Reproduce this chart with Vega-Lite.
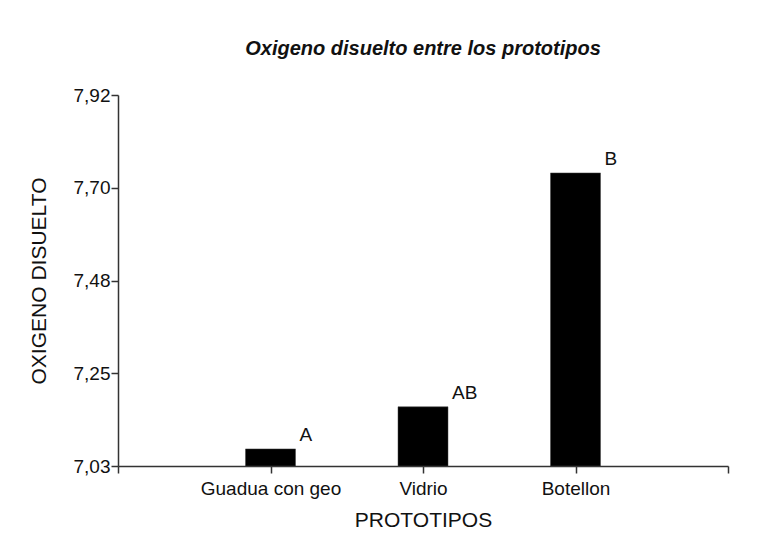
{
  "$schema": "https://vega.github.io/schema/vega-lite/v6.json",
  "width": 610,
  "height": 371,
  "autosize": {"type": "none"},
  "padding": {"left": 118, "top": 95, "right": 29, "bottom": 86},
  "background": "white",
  "config": {
    "view": {"stroke": null},
    "font": "Liberation Sans",
    "axis": {
      "labelFont": "Liberation Sans",
      "titleFont": "Liberation Sans",
      "labelColor": "#111",
      "titleColor": "#111",
      "labelFontSize": 19,
      "titleFontSize": 21,
      "titleFontWeight": "normal",
      "domainColor": "#333",
      "tickColor": "#333",
      "domainWidth": 1.5,
      "tickWidth": 1.5,
      "tickSize": 7,
      "grid": false
    }
  },
  "title": {
    "text": "Oxigeno disuelto entre los prototipos",
    "font": "Liberation Sans",
    "fontSize": 20,
    "fontStyle": "italic",
    "fontWeight": "bold",
    "color": "#111",
    "anchor": "middle",
    "frame": "group",
    "offset": 27
  },
  "data": {
    "values": [
      {"prototipo": "Guadua con geo", "oxigeno": 7.071, "grupo": "A"},
      {"prototipo": "Vidrio", "oxigeno": 7.172, "grupo": "AB"},
      {"prototipo": "Botellon", "oxigeno": 7.733, "grupo": "B"}
    ]
  },
  "encoding": {
    "x": {
      "field": "prototipo",
      "type": "ordinal",
      "scale": {"type": "point", "domain": ["", "Guadua con geo", "Vidrio", "Botellon", " "], "padding": 0},
      "axis": {"title": "PROTOTIPOS", "labelAngle": 0, "labelPadding": 6, "titlePadding": 11}
    },
    "y": {
      "field": "oxigeno",
      "type": "quantitative",
      "scale": {"domain": [7.03, 7.92], "zero": false, "nice": false},
      "axis": {
        "title": "OXIGENO DISUELTO",
        "values": [7.03, 7.2525, 7.475, 7.6975, 7.92],
        "labelExpr": "replace(format(datum.value + 0.0001, '.2f'), '.', ',')",
        "labelPadding": 1,
        "titlePadding": 24
      }
    }
  },
  "layer": [
    {
      "mark": {"type": "bar", "width": 50, "color": "black", "stroke": "#444", "strokeWidth": 0.5},
      "encoding": {"y2": {"datum": 7.03}}
    },
    {
      "mark": {"type": "text", "align": "left", "baseline": "alphabetic", "dx": 29, "dy": -8, "fontSize": 19, "font": "Liberation Sans", "color": "#111"},
      "encoding": {"text": {"field": "grupo"}}
    }
  ]
}
